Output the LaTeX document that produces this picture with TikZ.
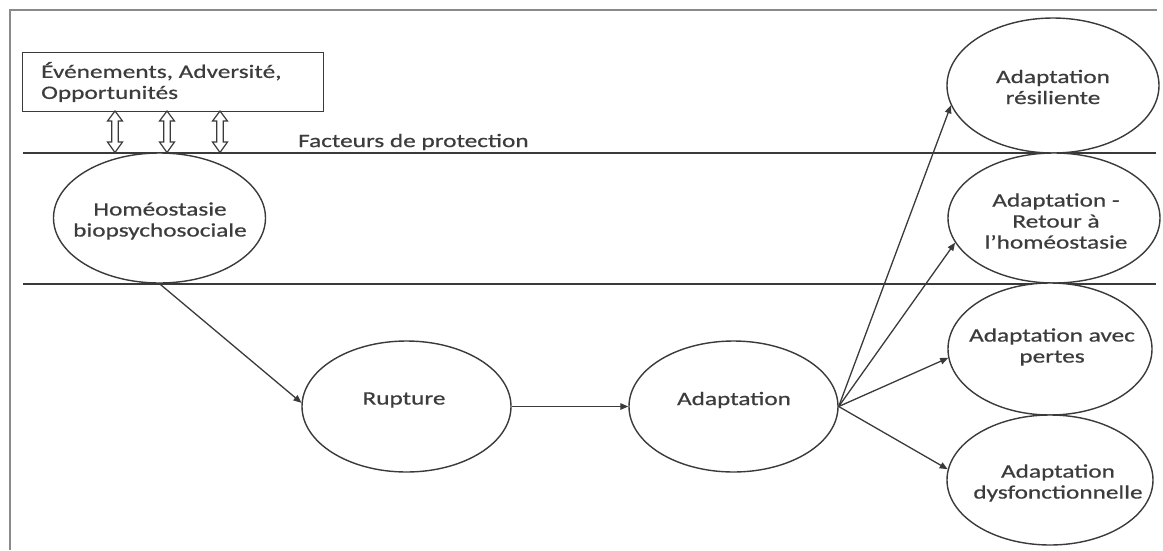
\documentclass[tikz,border=0pt]{standalone}
\usepackage{fontspec}
\setmainfont{Carlito}[FakeStretch=1.33,FakeBold=0.6]
\usetikzlibrary{arrows.meta,shapes.geometric}
\definecolor{linec}{HTML}{3A3A3A}
\definecolor{textc}{HTML}{3C3C3C}
\definecolor{framec}{HTML}{8A8A8A}
\begin{document}
\begin{tikzpicture}[x=1pt,y=-1pt,
  oval/.style={ellipse, draw=linec, line width=1.4pt, fill=white, inner sep=0pt},
  txt/.style={text=textc, font=\fontsize{19}{21}\selectfont, align=center, inner sep=0pt},
  conn/.style={draw=linec, line width=1.3pt, -{Triangle[length=8pt,width=6.5pt]}},
  rule/.style={draw=linec, line width=1.3pt},
  dbl/.style={draw=linec, line width=1.2pt, fill=white, line join=miter}]
\useasboundingbox (0,0) rectangle (1163,550);
% frame
\draw[draw=framec, line width=2.5pt] (10,550) -- (10,10) -- (1157,10);
% horizontal rules
\coordinate (l1a) at (23,153); \coordinate (l1b) at (1156,153);
\coordinate (l2a) at (23,284); \coordinate (l2b) at (1156,284);
\draw[rule] (l1a) -- (l1b);
\draw[rule] (l2a) -- (l2b);
% event box
\node[draw=linec, line width=1.3pt, minimum width=301pt, minimum height=59pt, inner sep=0pt, anchor=north west] (evt) at (22,52) {};
\node[txt, align=left, anchor=west] (evtt) at (41,82) {Événements, Adversité,\\Opportunités};
% double arrows
\foreach \x in {115,167,220}{
  \draw[dbl] (\x-3.3,121) -- (\x-7.5,121) -- (\x,111) -- (\x+7.5,121) -- (\x+3.3,121)
    -- (\x+3.3,142) -- (\x+7.5,142) -- (\x,152.5) -- (\x-7.5,142) -- (\x-3.3,142) -- cycle;
}
\node[txt, anchor=west] (fac) at (298,142) {Facteurs de protection};
% ellipses
\node[oval, minimum width=212pt, minimum height=130pt] (hom) at (159.5,218) {};
\node[txt] at (160,221) {Homéostasie\\biopsychosociale};
\node[oval, minimum width=209pt, minimum height=131pt] (rup) at (406.5,406.5) {};
\node[txt] at (404,400) {Rupture};
\node[oval, minimum width=209pt, minimum height=131pt] (ad) at (733.5,406.5) {};
\node[txt] at (734,400) {Adaptation};
\node[oval, minimum width=212pt, minimum height=135pt] (res) at (1053,85.5) {};
\node[txt] at (1053,87) {Adaptation\\résiliente};
\node[oval, minimum width=212pt, minimum height=130pt] (ret) at (1054,218) {};
\node[txt] at (1056,221) {Adaptation -\\Retour à\\l’homéostasie};
\node[oval, minimum width=204pt, minimum height=132pt] (per) at (1050,349) {};
\node[txt] at (1052,347) {Adaptation avec\\pertes};
\node[oval, minimum width=206pt, minimum height=130pt] (dys) at (1050,480) {};
\node[txt] at (1058,483) {Adaptation\\dysfonctionnelle};
% connectors
\draw[conn] (hom.south) -- (rup.178);
\draw[conn] (rup.east) -- (ad.west);
\draw[conn] (ad.east) -- (res.191);
\draw[conn] (ad.east) -- (ret.194);
\draw[conn] (ad.east) -- (per.185);
\draw[conn] (ad.east) -- (dys.174);
\end{tikzpicture}
\end{document}
